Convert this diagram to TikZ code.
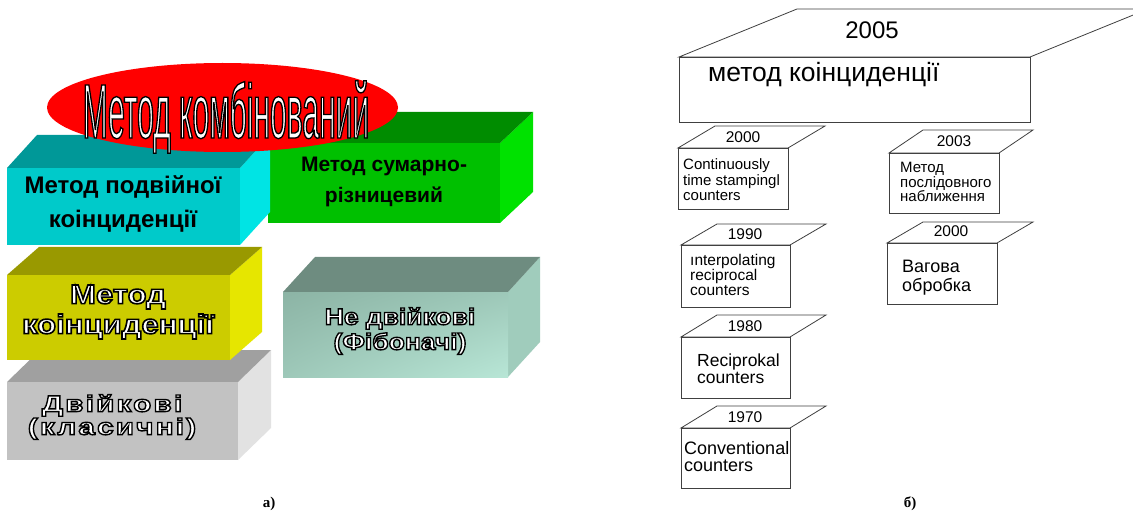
\documentclass[tikz,border=0pt]{standalone}
\usepackage{fontspec}
\usetikzlibrary{shadings}
\setmainfont{Liberation Sans}
\newfontfamily\narrowfont[FakeStretch=0.39]{Liberation Sans}
\newfontfamily\widefont[FakeStretch=1.3,LetterSpace=9]{Liberation Sans}
\newfontfamily\semiwide[FakeStretch=1.15]{Liberation Sans}
\newfontfamily\capserif{Liberation Serif}
\definecolor{cyanF}{RGB}{0,202,202}
\definecolor{cyanT}{RGB}{0,152,152}
\definecolor{cyanS}{RGB}{0,228,228}
\definecolor{greenF}{RGB}{0,192,0}
\definecolor{greenT}{RGB}{0,140,0}
\definecolor{greenS}{RGB}{0,226,0}
\definecolor{yelF}{RGB}{204,204,0}
\definecolor{yelT}{RGB}{153,153,0}
\definecolor{yelS}{RGB}{230,230,0}
\definecolor{grF}{RGB}{194,194,194}
\definecolor{grT}{RGB}{160,160,160}
\definecolor{grS}{RGB}{226,226,226}
\definecolor{tealA}{RGB}{140,180,165}
\definecolor{tealB}{RGB}{184,230,214}
\definecolor{tealT}{RGB}{110,140,128}
\definecolor{tealS}{RGB}{160,204,188}
% outline (hollow) text via PDF text render mode: white fill, black stroke
\newcommand{\hollow}[2]{\special{pdf:literal direct 2 Tr #1 w 0 G}#2\special{pdf:literal direct 0 Tr}}
\tikzset{
  frame/.style={draw=black!75, line width=0.8pt, fill=white},
  yr/.style={font=\fontsize{15.5}{15.5}\selectfont, anchor=base, inner sep=0},
  lbl/.style={anchor=west, inner sep=0, align=left},
  blocktxt/.style={align=center, inner sep=0},
  hol/.style={blocktxt, text=white},
}
% 3D block: name, x1,y1 (front top-left), x2,y2 (front bottom-right), dx, dy, top, side
\newcommand{\cube}[9]{%
  \fill[#9] (#4,#3) -- ({#4+#6},{#3-#7}) -- ({#4+#6},{#5-#7}) -- (#4,#5) -- cycle;
  \fill[#8] (#2,#3) -- ({#2+#6},{#3-#7}) -- ({#4+#6},{#3-#7}) -- (#4,#3) -- cycle;
  \coordinate (#1) at (#2,#3);
}
\newcommand{\ybox}[7]{%
  \draw[frame] (#2,#3) -- ({#2+#6},{#3-#7}) -- ({#4+#6},{#3-#7}) -- (#4,#3) -- cycle;
  \draw[frame] (#2,#3) rectangle (#4,#5);
  \coordinate (#1) at (#2,#3);
}
\begin{document}
\begin{tikzpicture}[x=1pt,y=-1pt]
\useasboundingbox (0,0) rectangle (1133,513);
\clip (0,0) rectangle (1133,513);
\fill[white] (0,0) rectangle (1133,513);

% ---------- left part (a) ----------
\cube{green}{268}{143}{500}{223}{33}{31}{greenT}{greenS}
\fill[greenF] (268,143) rectangle (500,223);
\cube{grey}{7}{382}{238}{460}{33}{32}{grT}{grS}
\fill[grF] (7,382) rectangle (238,460);
\cube{yel}{7}{275}{230}{360}{32}{28}{yelT}{yelS}
\fill[yelF] (7,275) rectangle (230,360);
\cube{cyan}{7}{168}{240}{245}{30}{33}{cyanT}{cyanS}
\fill[cyanF] (7,168) rectangle (240,245);
\cube{teal}{283}{292}{508}{377}{32}{35}{tealT}{tealS}
\shade[upper left=tealA, lower right=tealB, upper right=tealA!60!tealB, lower left=tealA!60!tealB] (283,292) rectangle (508,377);
\fill[red] (222.5,107.5) ellipse [x radius=175.5, y radius=44.5];

\node[hol, anchor=base, font=\narrowfont\fontsize{77}{80}\selectfont] (comb) at (226,138) {\hollow{1.3}{Метод комбінований}};
\node[blocktxt, font=\bfseries\fontsize{24}{34}\selectfont] (dbl) at (123,203.5) {Метод подвійної\\коінциденції};
\node[blocktxt, font=\bfseries\fontsize{21}{31}\selectfont] (sum) at (384,181.5) {Метод сумарно-\\різницевий};
\node[hol, font=\semiwide\bfseries\fontsize{27}{30}\selectfont] (coin) at (118,312) {\hollow{1.6}{Метод\\коінциденції}};
\node[hol, font=\widefont\bfseries\fontsize{23}{23}\selectfont] (bin) at (112,417) {\hollow{1.4}{Двійкові\\(класичні)}};
\node[hol, font=\semiwide\bfseries\fontsize{23}{25}\selectfont] (fib) at (400,331) {\hollow{1.4}{Не двійкові\\(Фібоначі)}};

\node[font=\capserif\bfseries\fontsize{15}{15}\selectfont, anchor=base, inner sep=0] (capa) at (269,507) {а)};

% ---------- right part (b) ----------
\ybox{big}{679}{57}{1030}{122}{118}{48}
\node[font=\fontsize{24}{24}\selectfont, anchor=base, inner sep=0] (y2005) at (872,39) {2005};
\node[font=\fontsize{26.5}{26.5}\selectfont, anchor=base west, inner sep=0] (bigtxt) at (708,82) {метод коінциденції};

\ybox{bA}{678}{148}{788}{209}{37}{22}
\node[yr] (yA) at (743,143) {2000};
\node[lbl, font=\fontsize{15}{15.5}\selectfont] (tA) at (683,180) {Continuously\\time stampingl\\counters};

\ybox{bB}{889}{153}{999}{213}{34}{23}
\node[yr] (yB) at (954,147) {2003};
\node[lbl, font=\fontsize{15}{14.5}\selectfont] (tB) at (900,182) {Метод\\послідовного\\наближення};

\ybox{bC}{681}{245}{790}{307}{36}{21}
\node[yr] (yC) at (745,240) {1990};
\node[lbl, font=\fontsize{15.5}{15}\selectfont] (tC) at (690,274.5) {ınterpolating\\reciprocal\\counters};

\ybox{bD}{681}{337}{790}{398}{36}{22}
\node[yr] (yD) at (745,331) {1980};
\node[lbl, font=\fontsize{17.5}{17}\selectfont] (tD) at (697,369) {Reciprokal\\counters};

\ybox{bE}{681}{428}{790}{488}{36}{22}
\node[yr] (yE) at (745,422) {1970};
\node[lbl, font=\fontsize{18}{17}\selectfont] (tE) at (684,457) {Conventional\\counters};

\ybox{bF}{887}{243}{997}{304}{36}{21}
\node[yr] (yF) at (951,237) {2000};
\node[lbl, font=\fontsize{18}{19}\selectfont] (tF) at (902,278) {Вагова\\обробка};

\node[font=\capserif\bfseries\fontsize{15}{15}\selectfont, anchor=base, inner sep=0] (capb) at (910,507) {б)};
\end{tikzpicture}
\end{document}
